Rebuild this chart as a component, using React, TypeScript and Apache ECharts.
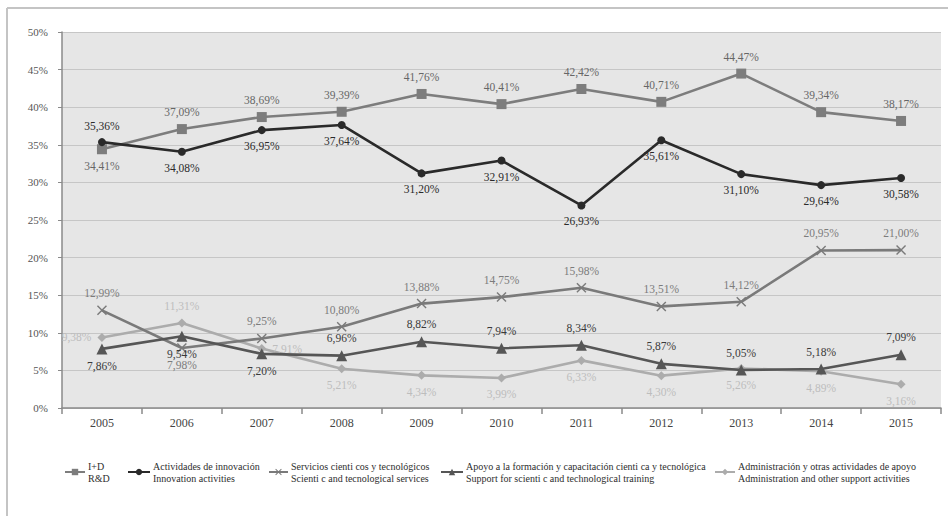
import React, { useEffect, useRef } from "react";
import * as echarts from "echarts";

// Share of expenditure by activity type, 2005-2015 (%)
const years = ["2005", "2006", "2007", "2008", "2009", "2010", "2011", "2012", "2013", "2014", "2015"];

const rdShare = [34.41, 37.09, 38.69, 39.39, 41.76, 40.41, 42.42, 40.71, 44.47, 39.34, 38.17];
const innovationShare = [35.36, 34.08, 36.95, 37.64, 31.2, 32.91, 26.93, 35.61, 31.1, 29.64, 30.58];
const servicesShare = [12.99, 7.98, 9.25, 10.8, 13.88, 14.75, 15.98, 13.51, 14.12, 20.95, 21.0];
const trainingShare = [7.86, 9.54, 7.2, 6.96, 8.82, 7.94, 8.34, 5.87, 5.05, 5.18, 7.09];
const adminShare = [9.38, 11.31, 7.91, 5.21, 4.34, 3.99, 6.33, 4.3, 5.26, 4.89, 3.16];

const yTicks = [0, 5, 10, 15, 20, 25, 30, 35, 40, 45, 50];

const seriesNames = [
  "I+D\nR&D",
  "Actividades de innovación\nInnovation activities",
  "Servicios cienti cos y tecnológicos\nScienti c and tecnological services",
  "Apoyo a la formación y capacitación cienti ca y tecnológica\nSupport for scienti c and technological training",
  "Administración y otras actividades de apoyo\nAdministration and other support activities",
];

// where each value label sits relative to its point
const rdLabelPos = ["bottom", "top", "top", "top", "top", "top", "top", "top", "top", "top", "top"];
const innovationLabelPos = ["top", "bottom", "bottom", "bottom", "bottom", "bottom", "bottom", "bottom", "bottom", "bottom", "bottom"];
const servicesLabelPos = ["top", "bottom", "top", "top", "top", "top", "top", "top", "top", "top", "top"];
const trainingLabelPos = ["bottom", "bottom", "bottom", "top", "top", "top", "top", "top", "top", "top", "top"];
const adminLabelPos = ["left", "top", "right", "bottom", "bottom", "bottom", "bottom", "bottom", "bottom", "bottom", "bottom"];

const SERIF = "'Liberation Serif', 'DejaVu Serif', serif";
const CROSS = "path://M0,1L1,0L5,4L9,0L10,1L6,5L10,9L9,10L5,6L1,10L0,9L4,5Z";

const pct = (v: number) => v.toFixed(2).replace(".", ",") + "%";

function makeSeries(
  name: string,
  values: number[],
  positions: string[],
  color: string,
  labelColor: string,
  symbol: string,
  symbolSize: number,
  z: number
) {
  return {
    name,
    type: "line",
    z,
    symbol,
    symbolSize,
    lineStyle: { color, width: 2.6 },
    itemStyle: { color, borderWidth: 0 },
    data: values.map((v, i) => ({
      value: v,
      label: { position: positions[i] },
    })),
    label: {
      show: true,
      formatter: (p: any) => pct(p.value),
      color: labelColor,
      fontFamily: SERIF,
      fontSize: 11.5,
      distance: 6,
    },
  };
}

function legendAt(name: string, left: number, itemWidth: number) {
  return {
    data: [name],
    left,
    top: 460,
    orient: "horizontal",
    padding: 0,
    itemWidth,
    itemHeight: 8,
    itemGap: 0,
    selectedMode: false,
    textStyle: {
      fontFamily: SERIF,
      fontSize: 10,
      lineHeight: 12,
      color: "#2e2e2e",
      padding: [0, 0, 0, -2],
    },
  };
}

export default function App() {
  const ref = useRef<HTMLDivElement>(null);

  useEffect(() => {
    if (!ref.current) return;
    const chart = echarts.init(ref.current, undefined, { renderer: "svg" });
    chart.setOption({
      animation: false,
      backgroundColor: "#ffffff",
      grid: { left: 62, right: 7, top: 32, bottom: 108, show: true, backgroundColor: "#e6e6e6", borderWidth: 0 },
      graphic: [
        { type: "line", shape: { x1: 7, y1: 8, x2: 948, y2: 8 }, style: { stroke: "#c4c4c4", lineWidth: 2 } },
        { type: "line", shape: { x1: 7, y1: 8, x2: 7, y2: 516 }, style: { stroke: "#c4c4c4", lineWidth: 2 } },
      ],
      legend: [
        legendAt(seriesNames[0], 64, 20),
        legendAt(seriesNames[1], 127, 22),
        legendAt(seriesNames[2], 268, 19),
        legendAt(seriesNames[3], 440, 22),
        legendAt(seriesNames[4], 714, 20),
      ],
      xAxis: {
        type: "category",
        data: years,
        boundaryGap: true,
        axisLine: { lineStyle: { color: "#8a8a8a", width: 1.5 } },
        axisTick: { show: true, length: 6, lineStyle: { color: "#8a8a8a", width: 1.5 } },
        axisLabel: { color: "#444", fontFamily: SERIF, fontSize: 12, margin: 9 },
        splitLine: { show: false },
      },
      yAxis: {
        type: "value",
        min: yTicks[0],
        max: yTicks[yTicks.length - 1],
        interval: yTicks[1] - yTicks[0],
        axisLine: { show: true, lineStyle: { color: "#8a8a8a", width: 1.5 } },
        axisTick: { show: true, length: 4, lineStyle: { color: "#8a8a8a" } },
        axisLabel: { color: "#555", fontFamily: SERIF, fontSize: 11, margin: 14, formatter: "{value}%" },
        splitLine: { show: true, lineStyle: { color: "#c6c6c6", width: 1.2 } },
      },
      series: [
        makeSeries(seriesNames[4], adminShare, adminLabelPos, "#acacac", "#bdbdbd", "diamond", 9, 2),
        makeSeries(seriesNames[2], servicesShare, servicesLabelPos, "#7a7a7a", "#7c7c7c", CROSS, 10, 3),
        makeSeries(seriesNames[3], trainingShare, trainingLabelPos, "#565656", "#3a3a3a", "triangle", 11, 4),
        makeSeries(seriesNames[0], rdShare, rdLabelPos, "#7d7d7d", "#666666", "rect", 10, 5),
        makeSeries(seriesNames[1], innovationShare, innovationLabelPos, "#2a2a2a", "#2a2a2a", "circle", 8, 6),
      ],
    });
    return () => chart.dispose();
  }, []);

  return (
    <div
      ref={ref}
      style={{ position: "fixed", left: 0, top: 0, width: 948, height: 516 }}
    />
  );
}
